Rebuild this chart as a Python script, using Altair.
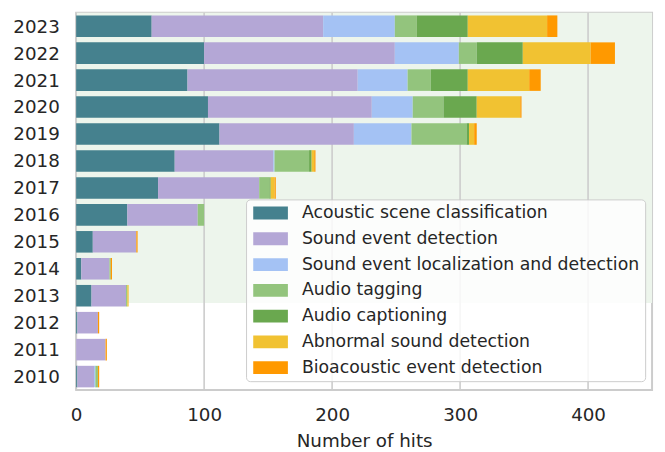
import altair as alt
import pandas as pd

years = [2023, 2022, 2021, 2020, 2019, 2018, 2017, 2016, 2015, 2014, 2013, 2012, 2011, 2010]
categories = [
    "Acoustic scene classification",
    "Sound event detection",
    "Sound event localization and detection",
    "Audio tagging",
    "Audio captioning",
    "Abnormal sound detection",
    "Bioacoustic event detection",
]
colors = ["#45818e", "#b4a7d6", "#a4c2f4", "#93c47d", "#6aa84f", "#f1c232", "#ff9900"]

asc = [59, 100, 87, 103, 112, 77, 64, 40, 13, 4, 12, 1, 0, 1]
sed = [134, 149, 133, 128, 105, 77, 79, 55, 34, 22, 27, 16, 23, 13]
seld = [56, 50, 39, 32, 45, 1, 0, 0, 0, 0, 0, 0, 0, 1]
at = [17, 14, 18, 24, 43, 27, 8, 5, 0, 1, 1, 0, 0, 2]
ac = [40, 36, 29, 26, 2, 2, 1, 0, 0, 0, 0, 0, 0, 0]
asd = [62, 53, 48, 34, 4, 2, 3, 0, 0, 0, 1, 0, 0, 0]
bed = [8, 19, 9, 1, 2, 1, 1, 0, 1, 1, 0, 1, 1, 1]

x_ticks = [0, 100, 200, 300, 400]
x_domain = [0, 450]
y_domain = [2009.5, 2023.5]
shade_span = [2012.73, 2023.5]

series = [asc, sed, seld, at, ac, asd, bed]
rows = []
for ci, (cat, vals) in enumerate(zip(categories, series)):
    for yr, v in zip(years, vals):
        rows.append({"year": yr, "category": cat, "hits": v, "order": ci})
df = pd.DataFrame(rows)

shade_df = pd.DataFrame({"y0": [shade_span[0]], "y1": [shade_span[1]],
                         "x0": [x_domain[0]], "x1": [x_domain[1]]})
grid_df = pd.DataFrame({"v": x_ticks})

TXT = "#262626"

xscale = alt.Scale(domain=x_domain, nice=False, zero=True)
yscale = alt.Scale(domain=y_domain, nice=False, zero=False)


def x_axis():
    return alt.Axis(values=x_ticks, grid=False, ticks=False, domain=False,
                    labelFlush=False, labelOverlap=False,
                    labelFontSize=18.5, labelColor=TXT, labelPadding=16,
                    title="Number of hits", titleFontSize=18.5,
                    titleFontWeight="normal", titleColor=TXT, titlePadding=8)


def y_axis():
    return alt.Axis(values=years, tickCount=len(years), format="d", grid=False,
                    ticks=False, domain=False,
                    labelFlush=False, labelOverlap=False, labelBound=False,
                    labelFontSize=18.5, labelColor=TXT, labelPadding=17, title=None)


shade = alt.Chart(shade_df).mark_rect(color="#edf5ec", strokeWidth=0).encode(
    x=alt.X("x0:Q", scale=xscale, axis=x_axis(), title="Number of hits"),
    x2="x1:Q",
    y=alt.Y("y0:Q", scale=yscale, axis=y_axis(), title=None),
    y2="y1:Q",
)

grid = alt.Chart(grid_df).mark_rule(color="#cccccc", strokeWidth=1.6).encode(
    x=alt.X("v:Q", scale=xscale, axis=x_axis(), title="Number of hits")
)

bars = alt.Chart(df).transform_stack(
    stack="hits", groupby=["year"], as_=["s0", "s1"],
    sort=[alt.SortField(field="order", order="ascending")]
).transform_calculate(
    ylo="datum.year - 0.4", yhi="datum.year + 0.4"
).mark_rect(strokeWidth=0).encode(
    x=alt.X("s0:Q", scale=xscale, axis=x_axis(), title="Number of hits"),
    x2="s1:Q",
    y=alt.Y("ylo:Q", scale=yscale, axis=y_axis(), title=None),
    y2="yhi:Q",
    color=alt.Color(
        "category:N",
        scale=alt.Scale(domain=categories, range=colors),
        legend=alt.Legend(
            orient="none", legendX=172, legendY=189, title=None,
            symbolType="M-1,-1H4.4V1H-1Z", symbolSize=169, symbolStrokeWidth=0,
            symbolOpacity=1,
            labelFontSize=17.5, labelColor=TXT, labelOffset=34, labelLimit=600,
            rowPadding=7.1, padding=5,
            fillColor="rgba(255,255,255,0.82)", strokeColor="#cccccc", cornerRadius=4,
        ),
    ),
)

chart = alt.layer(shade, grid, bars).properties(
    width=583, height=382,
    padding={"left": 4, "top": 1, "right": 5, "bottom": 5},
).configure(font="DejaVu Sans").configure_view(stroke="#cccccc", strokeWidth=2)

chart.save("out.html", embed_options={"renderer": "svg", "actions": False})
